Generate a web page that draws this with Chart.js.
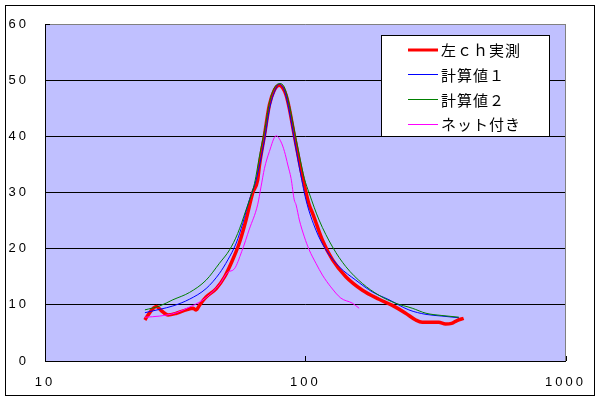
<!DOCTYPE html>
<html><head><meta charset="utf-8">
<script src="https://cdn.jsdelivr.net/npm/chart.js@4.4.1/dist/chart.umd.min.js"></script>
<style>html,body{margin:0;padding:0;background:#fff}#wrap{width:600px;height:400px}</style>
</head><body><div id="wrap"><canvas id="c" width="600" height="400"></canvas></div>
<script>
// ---- data ----
const seriesLabels = ['左ｃｈ実測', '計算値１', '計算値２', 'ネット付き'];
const seriesColors = ['#ff0000', '#0000ff', '#008000', '#ff00ff'];
const xTickValues = [10, 100, 1000];
const yMin = 0, yMax = 60, yStep = 10;

const redFreq = [24.2, 24.8, 26.8, 28.0, 29.7, 32.0, 34.9, 37.0, 38.1, 39.3, 41.6, 45.5, 49.0, 51.9, 55.8, 59.2, 62.8, 65.6, 66.7, 69.7, 72.8, 76.0, 79.5, 82.0, 84.3, 86.8, 90.7, 94.9, 99.2, 103.5, 106.7, 116.4, 127.3, 143.2, 165.8, 192, 216, 243, 265.7, 281.4, 325.8, 345.7, 365, 383, 406];
const redVal  = [7.3, 8.1, 9.7, 8.95, 8.2, 8.5, 9.1, 9.4, 9.1, 10.0, 11.4, 12.9, 15.0, 17.4, 21.0, 25.1, 29.9, 32.2, 34.9, 40.2, 45.6, 48.2, 49.1, 48.6, 47.4, 45.0, 40.2, 35.5, 31.3, 27.8, 26.3, 21.5, 18.0, 15.0, 12.6, 11.0, 9.9, 8.5, 7.3, 6.9, 6.9, 6.6, 6.7, 7.2, 7.6];

const blueFreq = [24.2, 27.6, 31.0, 35.9, 41.6, 46.8, 50.4, 54.3, 57.5, 61.0, 64.7, 69.7, 72.8, 76.0, 79.5, 82.5, 84.3, 86.8, 90.7, 94.9, 100.6, 109.9, 120, 134.9, 156.3, 181, 209.9, 250, 291, 335, 389];
const blueVal  = [8.6, 9.2, 9.8, 11.0, 12.9, 15.6, 18.0, 21.0, 24.5, 28.7, 32.2, 39.3, 44.8, 47.8, 49.3, 48.5, 47.2, 44.5, 39.5, 34.5, 28.7, 23.3, 19.8, 16.8, 14.4, 12.3, 10.9, 9.1, 8.3, 8.0, 7.7];

const greenFreq = [24.2, 27.6, 31.0, 35.9, 41.6, 46.8, 51.2, 55.0, 59.2, 63.8, 67.0, 69.7, 72.8, 76.0, 80.0, 83.0, 86.0, 90.0, 95.0, 99.2, 103.5, 113.0, 127.3, 143.2, 165.8, 192, 222, 257.6, 291, 335, 389];
const greenVal  = [9.1, 9.8, 10.9, 12.2, 14.4, 17.4, 19.8, 22.7, 26.9, 31.6, 37.0, 41.0, 46.0, 48.6, 49.4, 48.8, 46.5, 42.0, 36.5, 32.5, 29.9, 25.1, 20.3, 16.8, 13.8, 11.7, 10.3, 9.4, 8.5, 8.1, 7.8];

const magFreq = [24.2, 27.6, 32.0, 35.9, 39.3, 41.6, 46.8, 50.4, 53.4, 57.0, 61.0, 65.6, 67.6, 69.7, 72.8, 77.3, 80.7, 83.2, 85.7, 88.2, 90.7, 92.2, 94.9, 99.2, 103.5, 109.9, 116.4, 125.3, 137, 151.6, 161];
const magVal  = [7.8, 8.0, 8.6, 9.6, 10.5, 11.3, 13.6, 15.8, 16.4, 19.5, 23.5, 27.8, 31.0, 34.3, 37.3, 40.1, 39.0, 37.3, 34.9, 32.5, 28.7, 27.8, 25.1, 22.1, 19.8, 17.4, 15.3, 13.2, 11.2, 10.3, 9.4];

function pts(xs, ys) { return xs.map((x, i) => ({x: x, y: ys[i]})); }

const seriesData = [pts(redFreq, redVal), pts(blueFreq, blueVal), pts(greenFreq, greenVal), pts(magFreq, magVal)];
const seriesWidths = [3.5, 1, 1, 1];

const SPACING = '3px';

const deco = {
  id: 'deco',
  beforeLayout(chart) { chart.ctx.letterSpacing = SPACING; },
  beforeDraw(chart) {
    const ctx = chart.ctx, a = chart.chartArea;
    ctx.save();
    ctx.fillStyle = '#fff';
    ctx.fillRect(0, 0, chart.width, chart.height);
    ctx.strokeStyle = '#000';
    ctx.lineWidth = 1;
    ctx.strokeRect(5.5, 5.5, 589, 390);
    ctx.fillStyle = '#c0c0ff';
    ctx.fillRect(a.left, a.top, a.right - a.left, a.bottom - a.top);
    ctx.restore();
    ctx.letterSpacing = SPACING;
  },
  beforeDatasetsDraw(chart) {
    const ctx = chart.ctx, a = chart.chartArea;
    const xs = chart.scales.x, ys = chart.scales.y;
    ctx.save();
    ctx.lineWidth = 1;
    ctx.strokeStyle = '#808080';
    ctx.beginPath();
    ctx.moveTo(Math.round(a.right) - 0.5, a.top);
    ctx.lineTo(Math.round(a.right) - 0.5, a.bottom);
    ctx.stroke();
    ctx.strokeStyle = '#000';
    ctx.beginPath();
    xTickValues.forEach(v => {
      const px = Math.round(xs.getPixelForValue(v)) + 0.5;
      ctx.moveTo(px, a.bottom);
      ctx.lineTo(px, a.bottom - 5);
    });
    const py = Math.round(ys.getPixelForValue(yMax)) + 0.5;
    ctx.moveTo(a.left, py);
    ctx.lineTo(a.left + 5, py);
    ctx.stroke();
    ctx.restore();
  },
  afterDraw(chart) {
    const ctx = chart.ctx;
    ctx.save();
    ctx.letterSpacing = '1px';
    const bx = 381.5, by = 35.5, bw = 168, bh = 101;
    ctx.fillStyle = '#fff';
    ctx.fillRect(bx, by, bw, bh);
    ctx.strokeStyle = '#000';
    ctx.lineWidth = 1;
    ctx.strokeRect(bx, by, bw, bh);
    ctx.font = '15px "Noto Sans CJK JP"';
    ctx.textBaseline = 'middle';
    ctx.textAlign = 'left';
    chart.data.datasets.forEach((ds, i) => {
      const y = 49.5 + i * 24.7;
      ctx.strokeStyle = ds.borderColor;
      ctx.lineWidth = i === 0 ? 3 : 1;
      ctx.beginPath();
      const yy = i === 0 ? Math.round(y) : Math.round(y) + 0.5;
      ctx.moveTo(408, yy);
      ctx.lineTo(438, yy);
      ctx.stroke();
      ctx.fillStyle = '#000';
      ctx.fillText(ds.label, 441, y + 1);
    });
    ctx.restore();
  }
};

new Chart(document.getElementById('c'), {
  type: 'scatter',
  data: {
    datasets: seriesLabels.map((lab, i) => ({
      label: lab,
      data: seriesData[i],
      showLine: true,
      borderColor: seriesColors[i],
      backgroundColor: seriesColors[i],
      borderWidth: seriesWidths[i],
      pointRadius: 0,
      pointHoverRadius: 0,
      cubicInterpolationMode: 'monotone',
      borderJoinStyle: 'round',
      order: 4 - i
    }))
  },
  options: {
    responsive: false,
    devicePixelRatio: 1,
    animation: false,
    events: [],
    layout: { padding: { left: 5, right: 33, top: 24, bottom: 5 } },
    plugins: { legend: { display: false }, tooltip: { enabled: false } },
    scales: {
      x: {
        type: 'logarithmic',
        min: 10, max: 1000,
        afterBuildTicks(scale) { scale.ticks = xTickValues.map(v => ({value: v, major: true})); },
        afterFit(scale) { scale.height = 34; },
        grid: { display: false, drawTicks: false },
        border: { display: true, color: '#000', width: 1 },
        ticks: {
          autoSkip: false, maxRotation: 0, padding: 14,
          color: '#000',
          font: { family: '"Liberation Sans", Arial', size: 13 },
          callback: (v) => String(v)
        }
      },
      y: {
        min: yMin, max: yMax,
        afterFit(scale) { scale.width = 40; },
        grid: {
          drawTicks: false,
          color: (c) => (c.tick && c.tick.value === yMax) ? '#808080' : '#000',
          lineWidth: 1
        },
        border: { display: true, color: '#000', width: 1 },
        ticks: {
          stepSize: yStep, padding: 16,
          color: '#000',
          font: { family: '"Liberation Sans", Arial', size: 13 }
        }
      }
    }
  },
  plugins: [deco]
});
</script>
</body></html>
